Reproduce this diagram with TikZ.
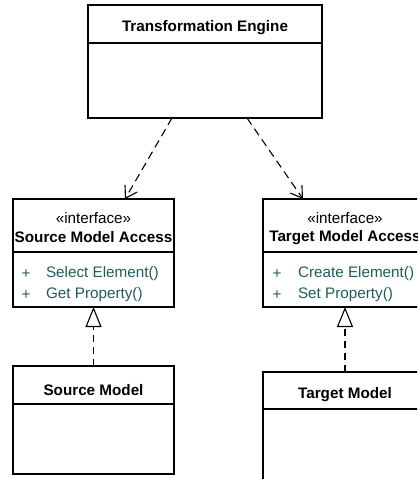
\documentclass[tikz,border=0pt]{standalone}
\usepackage{fontspec}
\setmainfont{Liberation Sans}
\usepackage{tikz}
\usetikzlibrary{arrows.meta}
\definecolor{opteal}{RGB}{31,92,92}

\begin{document}
\begin{tikzpicture}[x=1bp, y=-1bp, line width=1.1bp,
	classbox/.style={draw, anchor=north west, inner sep=0pt, outer sep=0pt},
	txt/.style={inner sep=0pt, font=\fontsize{15.3}{20}\selectfont},
	clsname/.style={inner sep=0pt, font=\fontsize{15.3}{20}\selectfont\bfseries},
	op/.style={txt, anchor=west, text=opteal},
	dep/.style={dash pattern=on 8bp off 5bp, -{Straight Barb[length=11bp,width=14bp]}},
	real/.style={dash pattern=on 7bp off 5bp, -{Triangle[open,length=20bp,width=16bp]}}]
	\clip (0,0) rectangle (417,479);

	% Moteur en haut
	\node[classbox, minimum width=234bp, minimum height=113bp] (engine) at (88,5) {};
	\draw (engine.west |- 0,43) -- (engine.east |- 0,43);
	\node[clsname] (engineName) at (205,28) {Transformation Engine};

	% Interfaces
	\node[classbox, minimum width=161bp, minimum height=108bp] (srcAccess) at (13,199) {};
	\draw (srcAccess.west |- 0,252) -- (srcAccess.east |- 0,252);
	\node[txt] (srcStereo) at (93.5,218) {«interface»};
	\node[clsname] (srcName) at (93.5,237.5) {Source Model Access};
	\node[op] (srcPlusA) at (21,274) {+};
	\node[op] (srcOpA) at (45.5,274) {Select Element()};
	\node[op] (srcPlusB) at (21,295) {+};
	\node[op] (srcOpB) at (45.5,295) {Get Property()};

	\node[classbox, minimum width=164bp, minimum height=108bp] (tgtAccess) at (263,199) {};
	\draw (tgtAccess.west |- 0,252) -- (tgtAccess.east |- 0,252);
	\node[txt] (tgtStereo) at (345,218) {«interface»};
	\node[clsname] (tgtName) at (345,237.5) {Target Model Access};
	\node[op] (tgtPlusA) at (272,274) {+};
	\node[op] (tgtOpA) at (297.5,274) {Create Element()};
	\node[op] (tgtPlusB) at (272,295) {+};
	\node[op] (tgtOpB) at (297.5,295) {Set Property()};

	% Modeles
	\node[classbox, minimum width=161bp, minimum height=108bp] (srcModel) at (13,366) {};
	\draw (srcModel.west |- 0,404) -- (srcModel.east |- 0,404);
	\node[clsname] (srcModelName) at (93.5,390) {Source Model};

	\node[classbox, minimum width=164bp, minimum height=120bp] (tgtModel) at (263,372) {};
	\draw (tgtModel.west |- 0,409) -- (tgtModel.east |- 0,409);
	\node[clsname] (tgtModelName) at (345,395) {Target Model};

	% Dependances et realisations
	\draw[dep] ([xshift=-33bp]engine.south) -- ([xshift=31.5bp]srcAccess.north);
	\draw[dep] ([xshift=42bp]engine.south) -- ([xshift=-42bp]tgtAccess.north);
	\draw[real] (srcModel.north) -- (srcAccess.south);
	\draw[real] (tgtModel.north) -- (tgtAccess.south);
\end{tikzpicture}
\end{document}
